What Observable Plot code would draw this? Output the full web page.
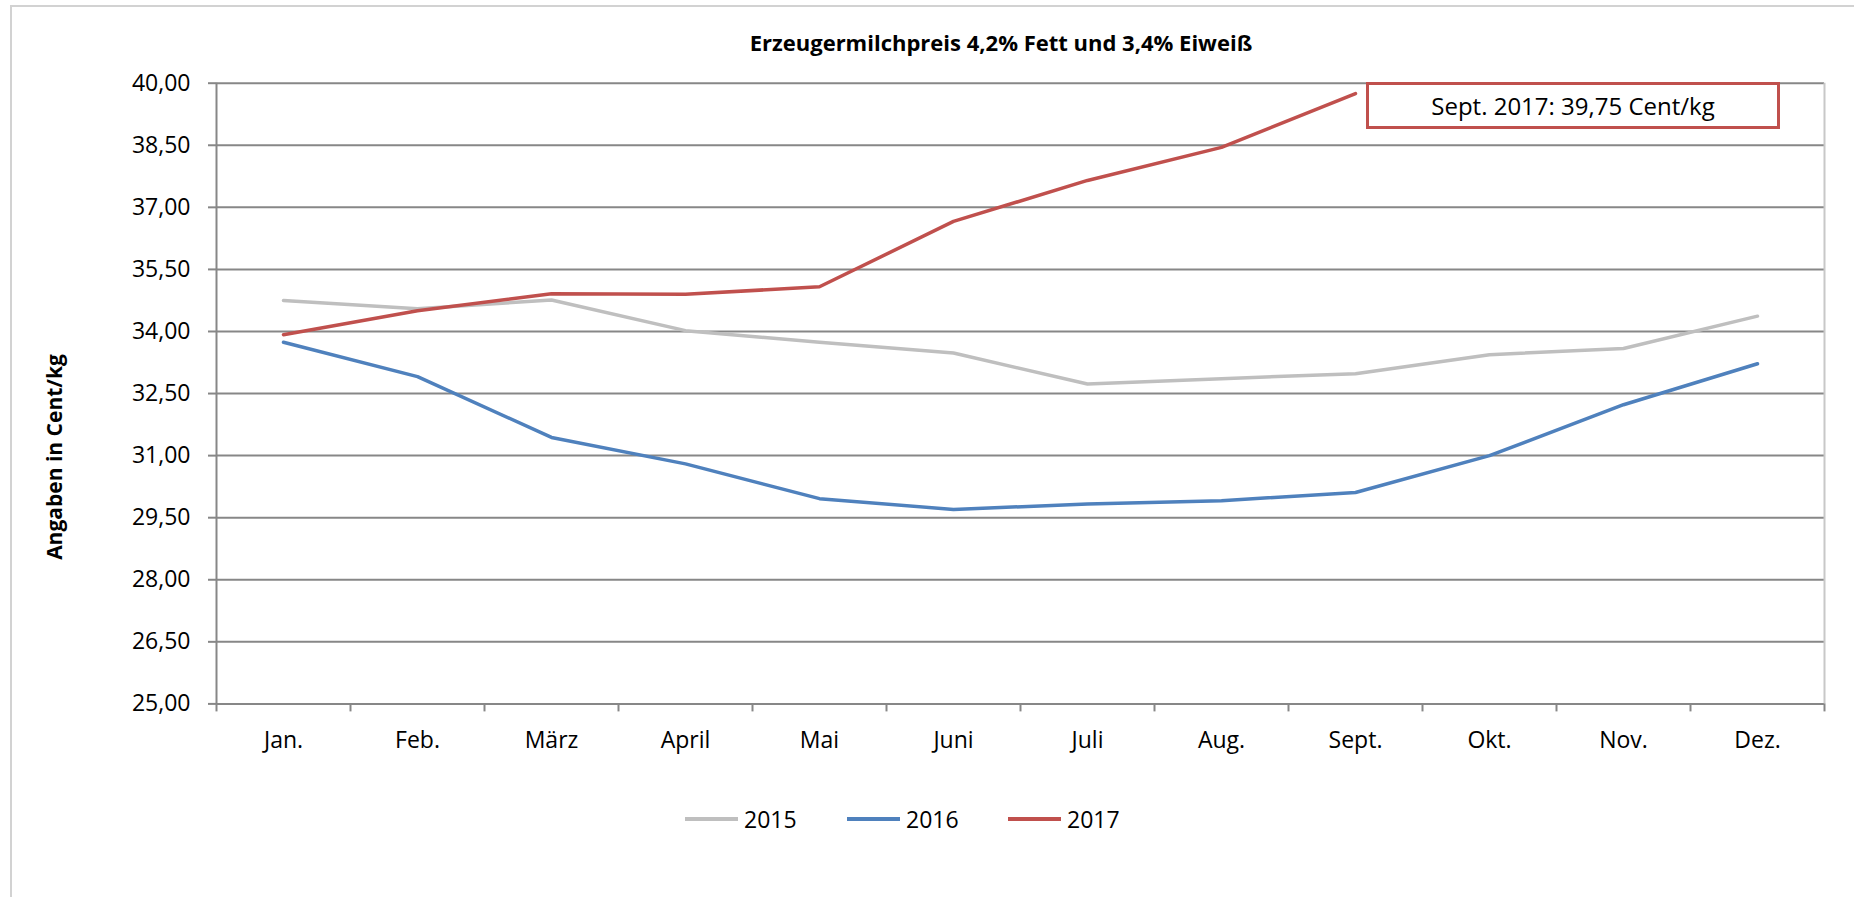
<!DOCTYPE html>
<html><head><meta charset="utf-8">
<script src="https://cdn.jsdelivr.net/npm/d3@7"></script>
<script src="https://cdn.jsdelivr.net/npm/@observablehq/plot@0.6"></script>
<style>
html,body{margin:0;padding:0;background:#fff;}
#wrap{position:relative;width:1854px;height:897px;overflow:hidden;font-family:"Open Sans",sans-serif;color:#000;}
#wrap svg{position:absolute;left:0;top:0;}
.frame{position:absolute;left:10px;top:5px;width:2000px;height:1000px;border-left:2px solid #d2d2d2;border-top:2px solid #d2d2d2;}
.title{position:absolute;left:1001px;top:27px;transform:translateX(-50%);font-weight:700;font-size:22px;line-height:30px;white-space:nowrap;}
.ylabel{position:absolute;left:54px;top:457px;transform:translate(-50%,-50%) rotate(-90deg);font-weight:700;font-size:21px;line-height:24px;white-space:nowrap;}
.note{position:absolute;left:1366px;top:82px;width:414px;height:47px;box-sizing:border-box;border:3px solid #C0504D;background:#fff;display:flex;align-items:center;justify-content:center;font-size:24px;line-height:1;}
.leg{position:absolute;top:804px;height:30px;display:flex;align-items:center;font-size:23px;line-height:30px;}
.sw{width:53px;height:4px;margin-right:6px;}
</style></head><body><div id="wrap"></div>
<script>
const months = ["Jan.", "Feb.", "März", "April", "Mai", "Juni", "Juli", "Aug.", "Sept.", "Okt.", "Nov.", "Dez."];
const years = ["2015", "2016", "2017"];
const values2015 = [34.75, 34.55, 34.76, 34.02, 33.74, 33.48, 32.73, 32.86, 32.98, 33.44, 33.59, 34.37];
const values2016 = [33.74, 32.91, 31.44, 30.80, 29.96, 29.70, 29.83, 29.91, 30.11, 31.00, 32.23, 33.22];
const values2017 = [33.92, 34.50, 34.91, 34.90, 35.08, 36.66, 37.65, 38.45, 39.75];
const yTicks = [25, 26.5, 28, 29.5, 31, 32.5, 34, 35.5, 37, 38.5, 40];
const colors = ["#BFBFBF", "#4F81BD", "#C0504D"];
const titleText = "Erzeugermilchpreis 4,2% Fett und 3,4% Eiweiß";
const yLabelText = "Angaben in Cent/kg";
const noteText = "Sept. 2017: 39,75 Cent/kg";

const series = [values2015, values2016, values2017];
const rows = [];
series.forEach((vals, s) => vals.forEach((v, i) => rows.push({m: i, v, year: years[s]})));
const monthIdx = months.map((_, i) => i);
const boundaries = months.map((_, i) => i - 0.5).concat([months.length - 0.5]);
const fmt = d => d.toFixed(2).replace(".", ",");

const chart = Plot.plot({
  width: 1854, height: 897,
  marginLeft: 216, marginRight: 30, marginTop: 82.7, marginBottom: 193.6,
  style: {fontFamily: '"Open Sans", sans-serif', fontSize: "23px", color: "#000", background: "transparent", overflow: "visible"},
  x: {type: "linear", domain: [-0.5, months.length - 0.5]},
  y: {domain: [25, 40]},
  color: {domain: years, range: colors},
  marks: [
    Plot.gridY(yTicks, {stroke: "#878787", strokeOpacity: 1, strokeWidth: 2}),
    Plot.ruleX([months.length - 0.5], {stroke: "#C8C8C8", strokeWidth: 2}),
    Plot.ruleX([-0.5], {stroke: "#878787", strokeWidth: 2}),
    Plot.axisY(yTicks, {tickSize: 8, tickPadding: 18, tickFormat: fmt, stroke: "#878787", strokeWidth: 2, fill: "#000", fontSize: 23, label: null}),
    Plot.axisX(boundaries, {tickSize: 8, tickFormat: () => "", stroke: "#878787", strokeWidth: 2, label: null}),
    Plot.axisX(monthIdx, {tickSize: 0, tickPadding: 28, tickFormat: i => months[i], fill: "#000", fontSize: 23, label: null}),
    Plot.lineY(rows, {x: "m", y: "v", z: "year", stroke: "year", strokeWidth: 3.5})
  ]
});

const wrap = document.getElementById("wrap");
const frame = document.createElement("div"); frame.className = "frame"; wrap.appendChild(frame);
wrap.appendChild(chart);
const t = document.createElement("div"); t.className = "title"; t.textContent = titleText; wrap.appendChild(t);
const yl = document.createElement("div"); yl.className = "ylabel"; yl.textContent = yLabelText; wrap.appendChild(yl);
const note = document.createElement("div"); note.className = "note"; note.textContent = noteText; wrap.appendChild(note);
const legLeft = [685, 847, 1008];
years.forEach((y, i) => {
  const item = document.createElement("div"); item.className = "leg"; item.style.left = legLeft[i] + "px";
  const sw = document.createElement("div"); sw.className = "sw"; sw.style.background = colors[i];
  const tx = document.createElement("span"); tx.textContent = y;
  item.appendChild(sw); item.appendChild(tx); wrap.appendChild(item);
});
</script></body></html>
